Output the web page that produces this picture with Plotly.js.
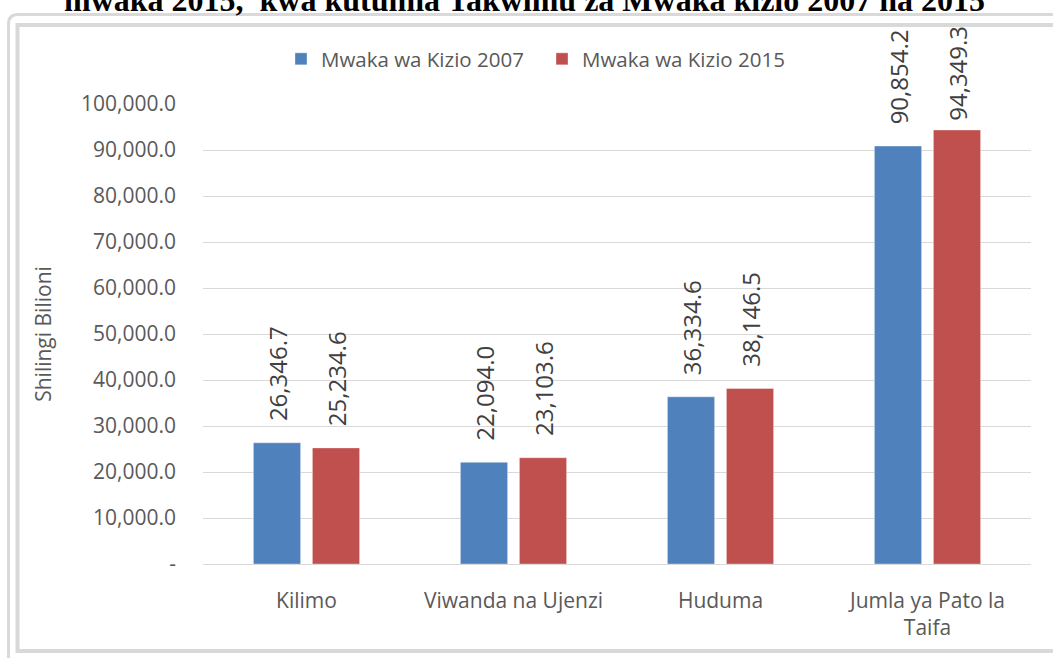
<!DOCTYPE html>
<html>
<head>
<meta charset="utf-8">
<script src="https://cdn.plot.ly/plotly-3.0.1.min.js"></script>
<style>html,body{margin:0;padding:0;background:#fff;}#chart{width:1053px;height:658px;}</style>
</head>
<body>
<div id="chart"></div>
<script>
const categories = ["Kilimo", "Viwanda na Ujenzi", "Huduma", "Jumla ya Pato la<br>Taifa"];
const series2007 = [26346.7, 22094.0, 36334.6, 90854.2];
const series2015 = [25234.6, 23103.6, 38146.5, 94349.3];
const seriesNames = ["Mwaka wa Kizio 2007", "Mwaka wa Kizio 2015"];
const yTickVals = [0, 10000, 20000, 30000, 40000, 50000, 60000, 70000, 80000, 90000, 100000];
const yTickText = ["-", "10,000.0", "20,000.0", "30,000.0", "40,000.0", "50,000.0", "60,000.0", "70,000.0", "80,000.0", "90,000.0", "100,000.0"];
const titleText = "mwaka 2015,  kwa kutumia Takwimu za Mwaka kizio 2007 na 2015";

// label padding (number of spaces between bar end and its label), style only
const pad2007 = [3, 3, 3, 3];
const pad2015 = [3, 3, 3, 1];

const W = 1053, H = 658;
const M = {l: 203, r: 22, t: 104, b: 94};
const PW = W - M.l - M.r, PH = H - M.t - M.b;
const px = x => (x - M.l) / PW;
const py = y => (H - M.b - y) / PH;

const fmt = v => v.toLocaleString('en-US', {minimumFractionDigits: 1, maximumFractionDigits: 1});
const font = "'Open Sans', 'Noto Sans', sans-serif";

function barTrace(vals, pads, name, color) {
  return {
    type: 'bar', x: categories, y: vals, name: name,
    marker: {color: color, line: {color: 'rgba(255,255,255,0.35)', width: 1}},
    text: vals.map((v, i) => '\u00A0'.repeat(pads[i]) + fmt(v)), textposition: 'outside', textangle: -90,
    textfont: {family: font, size: 24, color: '#404040'},
    constraintext: 'none', cliponaxis: false, hoverinfo: 'x+y'
  };
}

const data = [
  barTrace(series2007, pad2007, seriesNames[0], '#4F81BD'),
  barTrace(series2015, pad2015, seriesNames[1], '#C0504D')
];

const gray = '#d9d9d9';
const shapes = [
  {type: 'path', xref: 'paper', yref: 'paper',
   path: `M ${px(8.5)},${py(700)} L ${px(8.5)},${py(24)} Q ${px(8.5)},${py(14.5)} ${px(18)},${py(14.5)} L ${px(1100)},${py(14.5)}`,
   line: {color: gray, width: 3}, layer: 'below'},
  {type: 'path', xref: 'paper', yref: 'paper',
   path: `M ${px(1100)},${py(651)} L ${px(17.5)},${py(651)} L ${px(17.5)},${py(25)} L ${px(1100)},${py(25)}`,
   line: {color: gray, width: 4}, layer: 'below'}
];

const layout = {
  width: W, height: H,
  margin: M,
  paper_bgcolor: '#ffffff', plot_bgcolor: '#ffffff',
  font: {family: font, color: '#595959'},
  barmode: 'group', bargap: 0.43, bargroupgap: 0.2,
  showlegend: true,
  legend: {orientation: 'h', x: px(281), y: py(39), xanchor: 'left', yanchor: 'top',
           font: {family: font, size: 20.5, color: '#595959'}, entrywidth: 216, entrywidthmode: 'pixels',
           bgcolor: 'rgba(0,0,0,0)'},
  xaxis: {type: 'category', showgrid: false, zeroline: false, showline: false, ticks: '',
          tickfont: {family: font, size: 21, color: '#595959'}, ticklabelstandoff: 22, automargin: false, fixedrange: true},
  yaxis: {range: [0, 100000], tickvals: yTickVals, ticktext: yTickText, showgrid: true, gridcolor: gray, gridwidth: 1,
          zeroline: true, zerolinecolor: gray, zerolinewidth: 1, showline: false, ticks: '',
          tickfont: {family: font, size: 21, color: '#595959'}, ticklabelstandoff: 26, automargin: false,
          title: {text: 'Shilingi Bilioni', font: {family: font, size: 21, color: '#595959'}, standoff: 23}, fixedrange: true},
  shapes: shapes,
  annotations: [
    {text: '<b>' + titleText + '</b>', xref: 'paper', yref: 'paper', x: px(524), y: py(0),
     xanchor: 'center', yanchor: 'middle', showarrow: false,
     font: {family: "'Liberation Serif', 'Times New Roman', serif", size: 32, color: '#000000'}}
  ]
};

Plotly.newPlot('chart', data, layout, {displayModeBar: false, staticPlot: true});
</script>
</body>
</html>
